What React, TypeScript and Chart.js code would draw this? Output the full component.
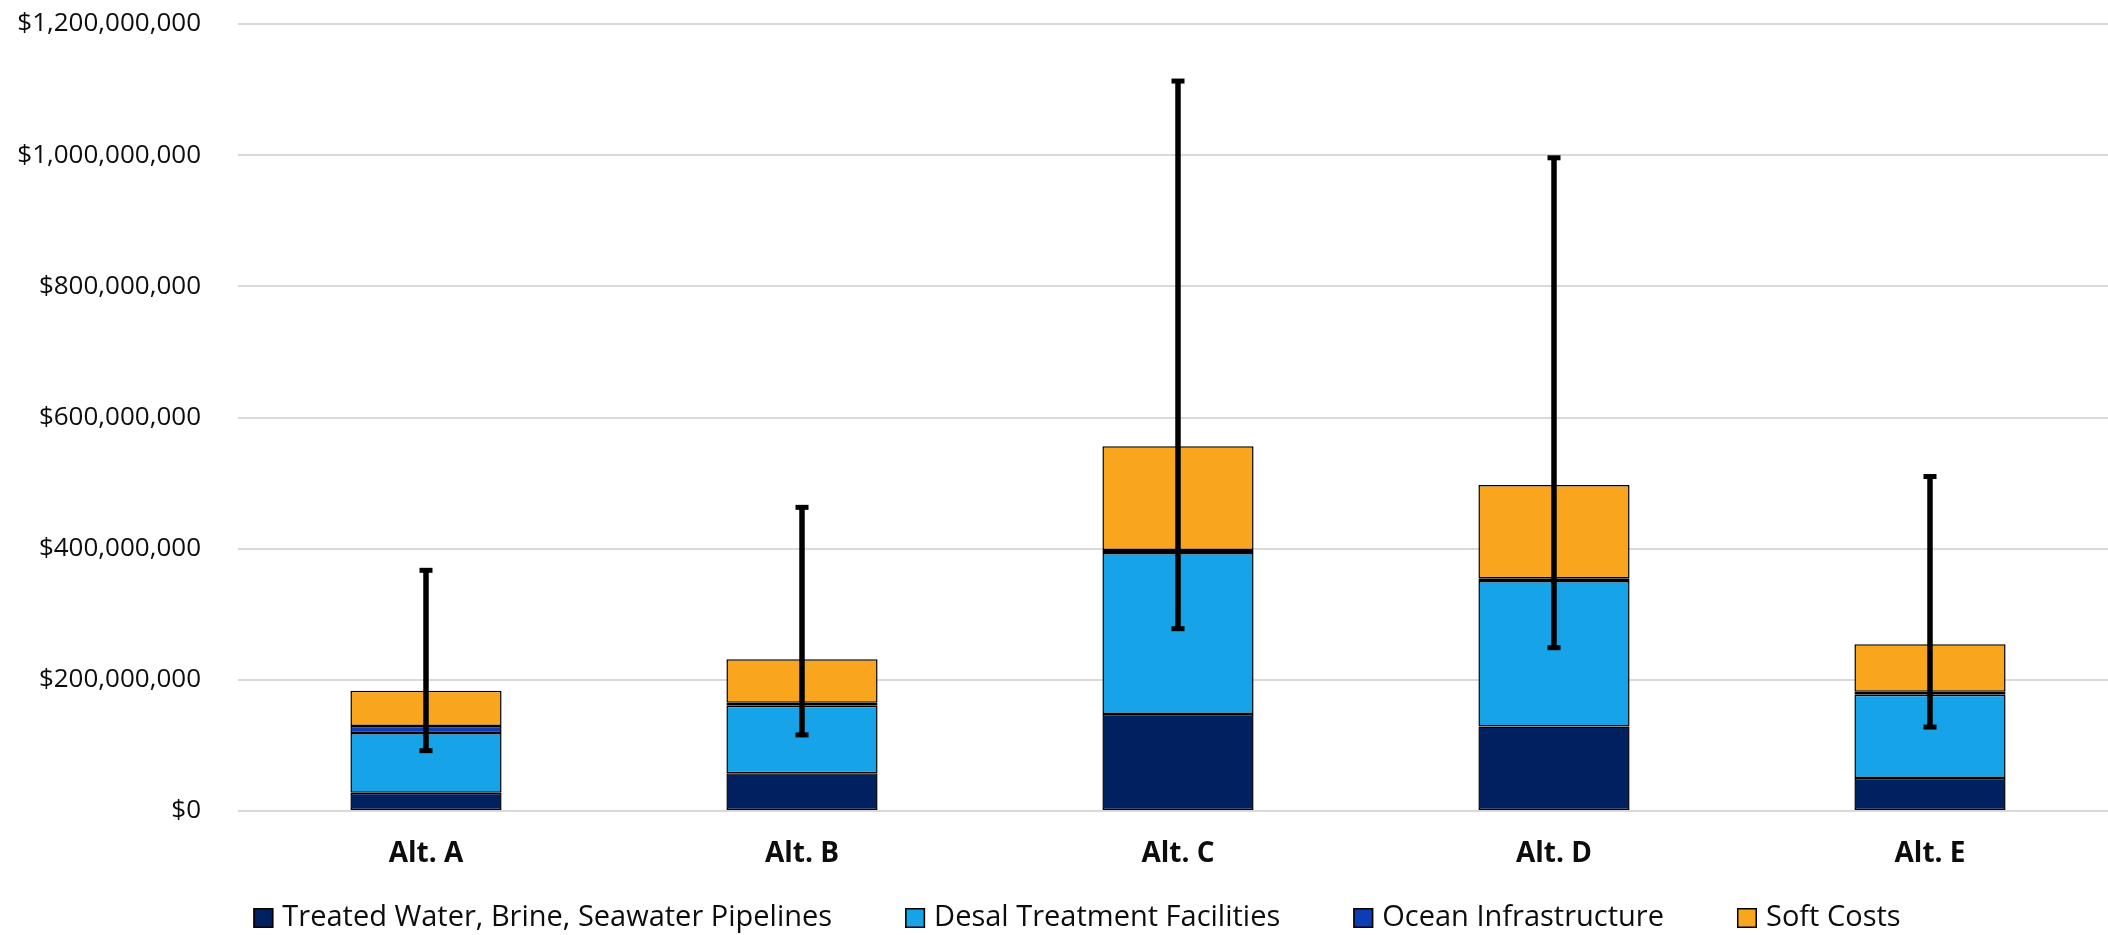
import React, { useEffect, useRef } from "react";
import { Chart, registerables } from "chart.js";

Chart.register(...registerables);

const categories = ["Alt. A", "Alt. B", "Alt. C", "Alt. D", "Alt. E"];
const seriesNames = [
  "Treated Water, Brine, Seawater Pipelines",
  "Desal Treatment Facilities",
  "Ocean Infrastructure",
  "Soft Costs",
];
const pipelines = [28e6, 57.4e6, 148e6, 129e6, 50.3e6];
const desal = [91e6, 103e6, 245.3e6, 221.8e6, 126.9e6];
const ocean = [10.7e6, 4.6e6, 4.5e6, 4.2e6, 4.5e6];
const softCosts = [53.5e6, 66.5e6, 158.5e6, 142e6, 72.7e6];
const rangeLow = [92e6, 116e6, 278e6, 249e6, 128e6];
const rangeHigh = [367e6, 463e6, 1113e6, 996e6, 510e6];
const yMin = 0;
const yMax = 1.2e9;
const yStep = 2e8;

const colors = ["#002060", "#17A3E8", "#0C3DB5", "#F9A51D"];
const FONT = '"Open Sans", "Noto Sans", sans-serif';

const errorBarPlugin = {
  id: "errorBars",
  afterDatasetsDraw(chart: any) {
    const { ctx, scales } = chart;
    const x = scales.x;
    const y = scales.y;
    ctx.save();
    ctx.strokeStyle = "#000";
    ctx.fillStyle = "#000";
    ctx.lineWidth = 5.5;
    categories.forEach((_, i) => {
      const px = x.getPixelForValue(i);
      const yh = y.getPixelForValue(rangeHigh[i]);
      const yl = y.getPixelForValue(rangeLow[i]);
      ctx.beginPath();
      ctx.moveTo(px, yh);
      ctx.lineTo(px, yl);
      ctx.stroke();
      ctx.fillRect(px - 6.5, yh - 2.5, 13, 5);
      ctx.fillRect(px - 6.5, yl - 2.5, 13, 5);
    });
    ctx.restore();
  },
};

const legendPlugin = {
  id: "customLegend",
  afterDraw(chart: any) {
    const { ctx } = chart;
    ctx.save();
    ctx.font = `29px ${FONT}`;
    ctx.textBaseline = "middle";
    ctx.textAlign = "left";
    const box = 20;
    const gap = 9;
    const spacing = 73;
    const widths = seriesNames.map((n) => box + gap + ctx.measureText(n).width);
    const total = widths.reduce((a, b) => a + b, 0) + spacing * (seriesNames.length - 1);
    const cx = 1077;
    const cy = 918;
    let xPos = cx - total / 2;
    seriesNames.forEach((n, i) => {
      ctx.fillStyle = colors[i];
      ctx.fillRect(xPos, cy - box / 2, box, box);
      ctx.strokeStyle = "#000";
      ctx.lineWidth = 1.5;
      ctx.strokeRect(xPos + 0.75, cy - box / 2 + 0.75, box - 1.5, box - 1.5);
      ctx.fillStyle = "#0d0d0d";
      ctx.fillText(n, xPos + box + gap, cy);
      xPos += widths[i] + spacing;
    });
    ctx.restore();
  },
};

export default function App() {
  const ref = useRef<HTMLCanvasElement>(null);
  useEffect(() => {
    if (!ref.current) return;
    const series = [pipelines, desal, ocean, softCosts];
    const chart = new Chart(ref.current, {
      type: "bar",
      data: {
        labels: categories,
        datasets: series.map((d, i) => ({
          label: seriesNames[i],
          data: d,
          backgroundColor: colors[i],
          borderColor: "#000",
          borderWidth: 1.5,
          borderSkipped: false,
          categoryPercentage: 1,
          barPercentage: 0.402,
        })),
      },
      options: {
        animation: false,
        responsive: false,
        maintainAspectRatio: false,
        devicePixelRatio: 1,
        layout: { padding: { left: 0, right: 0, top: 24, bottom: 66 } },
        plugins: {
          legend: { display: false },
          tooltip: { enabled: false },
        },
        scales: {
          x: {
            stacked: true,
            grid: { display: false, drawTicks: false },
            border: { display: false },
            ticks: {
              padding: 26,
              color: "#0d0d0d",
              font: { family: FONT, size: 28, weight: "bold" },
            },
            afterFit: (s: any) => {
              s.height = 58;
              s.paddingLeft = 0;
              s.paddingRight = 0;
            },
          },
          y: {
            stacked: true,
            min: yMin,
            max: yMax,
            grid: { color: "#D9D9D9", lineWidth: 2, drawTicks: false },
            border: { display: false },
            ticks: {
              stepSize: yStep,
              padding: 37,
              color: "#0d0d0d",
              font: { family: FONT, size: 26 },
              callback: (v: any) => "$" + Number(v).toLocaleString("en-US"),
            },
            afterFit: (s: any) => {
              s.width = 238;
              s.paddingTop = 0;
              s.paddingBottom = 0;
            },
          },
        },
      },
      plugins: [errorBarPlugin, legendPlugin],
    });
    return () => chart.destroy();
  }, []);
  return (
    <div style={{ position: "absolute", left: 0, top: 0, width: 2108, height: 935, overflow: "hidden", background: "#fff" }}>
      <canvas ref={ref} width={2118} height={935} style={{ display: "block" }} />
    </div>
  );
}
